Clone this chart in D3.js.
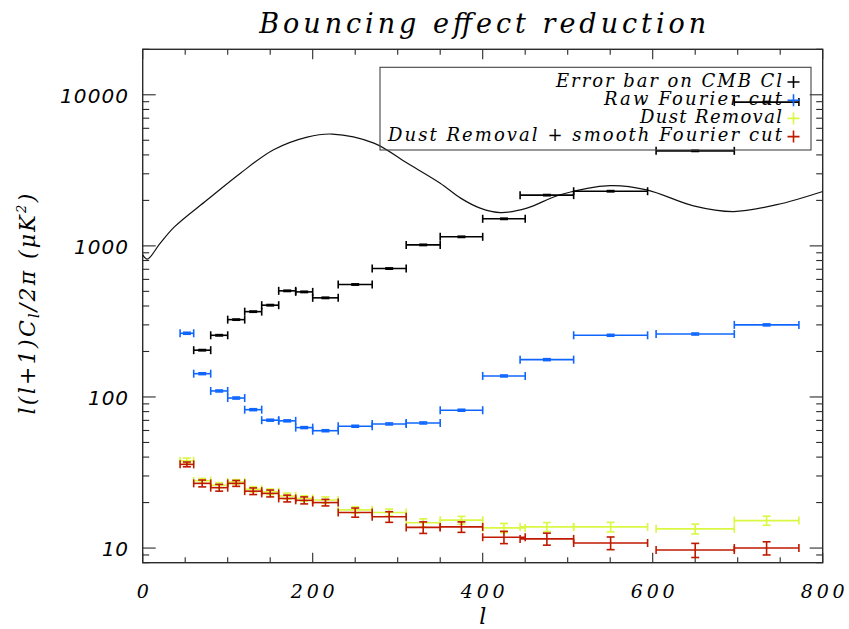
<!DOCTYPE html>
<html>
<head>
<meta charset="utf-8">
<script src="https://cdn.jsdelivr.net/npm/d3@7"></script>
<style>
  body { margin: 0; background: #fff; }
  svg { display: block; }
  .serif { font-family: "DejaVu Serif", "Liberation Serif", serif; font-style: italic; }
  .sans { font-family: "DejaVu Sans", "Liberation Sans", sans-serif; font-style: italic; }
</style>
</head>
<body>
<div id="wrapper"></div>
<script>
// bins in multipole l
const binLow  = [44, 60, 80, 100, 120, 140, 160, 180, 200, 230, 270, 310, 350, 400, 444, 507, 604, 696]
const binHigh = [60, 80, 100, 120, 140, 160, 180, 200, 230, 270, 310, 350, 400, 450, 507, 594, 696, 772]

// series values (l(l+1)Cl/2pi, uK^2) and their errors
const cmbError    = [null, 204, 256, 325, 367, 405, 504, 496, 453, 555, 708, 1015, 1148, 1511, 2167, 2300, 4256, 8948]
const cmbErrorSig = [null, 2, 2.5, 3, 3.5, 4, 5, 5, 4.5, 5.5, 7, 10, 11, 15, 20, 22, 40, 85]
const rawFourier    = [264, 142.6, 109.6, 98.4, 82.4, 70.2, 69.5, 62.7, 59.8, 64.0, 66.3, 67.3, 81.7, 137.8, 176.6, 256, 261, 300]
const rawFourierSig = [4, 2, 1.6, 1.5, 1.2, 1.0, 1.0, 0.9, 0.9, 0.95, 1.0, 1.0, 1.2, 2, 2.6, 3.8, 3.9, 4.5]
const dustRemoval    = [37.8, 27.9, 26.1, 27.4, 24.5, 23.6, 22.1, 21.3, 20.8, 17.9, 17.2, 14.7, 15.3, 13.6, 13.8, 13.8, 13.4, 15.2]
const dustRemovalSig = [1.6, 1.0, 1.0, 1.0, 1.0, 1.0, 1.0, 0.9, 1.0, 0.9, 0.9, 0.9, 0.9, 0.95, 0.95, 1.0, 1.0, 1.05]
const dustSmooth    = [35.8, 26.8, 25.1, 26.8, 23.8, 23.0, 21.3, 20.7, 20.0, 17.2, 16.1, 13.7, 13.8, 11.8, 11.5, 10.8, 9.7, 10.0]
const dustSmoothSig = [1.3, 1.4, 1.3, 1.2, 1.2, 1.2, 1.1, 1.1, 1.0, 1.2, 1.3, 1.2, 1.1, 1.1, 1.05, 1.04, 1.04, 1.0]

// theoretical CMB spectrum
const curveL  = [0, 5.5, 20, 37, 76, 115, 154, 193.5, 223, 272, 311, 350, 374, 397, 421, 452, 491, 550, 593, 648, 695, 746, 800]
const curveCl = [871, 817, 1030, 1330, 2018, 3027, 4327, 5247, 5497, 4790, 3532, 2601, 2070, 1778, 1660, 1778, 2178, 2506, 2350, 1841, 1687, 1873, 2292]

const seriesNames = ["Error bar on CMB Cl", "Raw Fourier cut", "Dust Removal", "Dust Removal + smooth Fourier cut"]
const seriesColors = ["#000000", "#0f66ff", "#d8f842", "#bf1a00"]

const xTicks = [0, 200, 400, 600, 800]
const yTicks = [10, 100, 1000, 10000]
const titleText = "Bouncing effect reduction"

const width = 849
const height = 629
const margin = { top: 49.3, right: 26.3, bottom: 66.3, left: 142.7 }

const svg = d3.select("#wrapper").append("svg")
  .attr("width", width)
  .attr("height", height)

const x = d3.scaleLinear()
  .domain([0, 800])
  .range([margin.left, width - margin.right])

const y = d3.scaleLog()
  .domain([8, 20000])
  .range([height - margin.bottom, margin.top])

const axisColor = "#2a2a2a"
const x0 = x.range()[0], x1 = x.range()[1]
const yb = y.range()[0], yt = y.range()[1]

// minor / major ticks
const xMinor = d3.range(0, 801, 50)
const yMinor = []
;[1, 10, 100, 1000, 10000].forEach(dec => {
  for (let k = 1; k < 10; k++) {
    const v = dec * k
    if (v >= 8 && v <= 20000) yMinor.push(v)
  }
})

const ticks = svg.append("g").attr("stroke", axisColor).attr("stroke-width", 1.1)
xMinor.forEach(v => {
  const len = xTicks.includes(v) ? 10 : 5.5
  ticks.append("line").attr("x1", x(v)).attr("x2", x(v)).attr("y1", yb).attr("y2", yb - len)
  ticks.append("line").attr("x1", x(v)).attr("x2", x(v)).attr("y1", yt).attr("y2", yt + len)
})
yMinor.forEach(v => {
  const len = yTicks.includes(v) ? 13 : 6.5
  ticks.append("line").attr("x1", x0).attr("x2", x0 + len).attr("y1", y(v)).attr("y2", y(v))
  ticks.append("line").attr("x1", x1).attr("x2", x1 - len).attr("y1", y(v)).attr("y2", y(v))
})

svg.append("rect")
  .attr("x", x0).attr("y", yt)
  .attr("width", x1 - x0).attr("height", yb - yt)
  .attr("fill", "none")
  .attr("stroke", axisColor)
  .attr("stroke-width", 1.4)

// tick labels
svg.append("g").selectAll("text")
  .data(xTicks)
  .enter().append("text")
  .attr("class", "serif")
  .attr("x", d => x(d))
  .attr("y", 598)
  .attr("text-anchor", "middle")
  .attr("font-size", 19)
  .attr("textLength", d => String(d).length > 1 ? String(d).length * 14.6 : null)
  .attr("lengthAdjust", "spacing")
  .text(d => d)

svg.append("g").selectAll("text")
  .data(yTicks)
  .enter().append("text")
  .attr("class", "sans")
  .attr("x", 128)
  .attr("y", d => y(d) + 8)
  .attr("text-anchor", "end")
  .attr("font-size", 20)
  .attr("textLength", d => String(d).length * 14 - 2)
  .attr("lengthAdjust", "spacing")
  .text(d => d)

// axis titles
svg.append("text")
  .attr("class", "serif")
  .attr("x", x(400))
  .attr("y", 624)
  .attr("text-anchor", "middle")
  .attr("font-size", 22)
  .text("l")

const yTitle = svg.append("text")
  .attr("class", "serif")
  .attr("transform", "translate(35,303) rotate(-90)")
  .attr("text-anchor", "middle")
  .attr("font-size", 22)
  .attr("letter-spacing", 2.3)
yTitle.append("tspan").text("l(l+1)C")
yTitle.append("tspan").attr("font-size", 14).attr("dy", 4).text("l")
yTitle.append("tspan").attr("dy", -4).text("/2\u03c0  (\u03bcK")
yTitle.append("tspan").attr("font-size", 13).attr("dy", -9).text("2")
yTitle.append("tspan").attr("dy", 9).text(")")

svg.append("text")
  .attr("class", "serif")
  .attr("x", x(400))
  .attr("y", 33)
  .attr("text-anchor", "middle")
  .attr("font-size", 27)
  .attr("textLength", 447)
  .attr("lengthAdjust", "spacing")
  .text(titleText)

// CMB curve
const line = d3.line()
  .x(d => x(d[0]))
  .y(d => y(d[1]))
  .curve(d3.curveCatmullRom.alpha(0.5))

svg.append("path")
  .attr("d", line(curveL.map((l, i) => [l, curveCl[i]])))
  .attr("fill", "none")
  .attr("stroke", "#111")
  .attr("stroke-width", 1.2)

// binned series with error bars
const series = [
  [cmbError, cmbErrorSig],
  [rawFourier, rawFourierSig],
  [dustRemoval, dustRemovalSig],
  [dustSmooth, dustSmoothSig],
]
const cap = 4

series.forEach(([values, sigmas], si) => {
  const g = svg.append("g")
    .attr("stroke", seriesColors[si])
    .attr("stroke-width", 1.6)
    .attr("fill", "none")
  values.forEach((v, i) => {
    if (v == null) return
    const xl = x(binLow[i]), xh = x(binHigh[i])
    const xc = x((binLow[i] + binHigh[i]) / 2)
    const yc = y(v)
    const ylo = y(v - sigmas[i]), yhi = y(v + sigmas[i])
    g.append("line").attr("x1", xl).attr("x2", xh).attr("y1", yc).attr("y2", yc)
    g.append("line").attr("x1", xl).attr("x2", xl).attr("y1", yc - cap).attr("y2", yc + cap)
    g.append("line").attr("x1", xh).attr("x2", xh).attr("y1", yc - cap).attr("y2", yc + cap)
    g.append("line").attr("x1", xc).attr("x2", xc).attr("y1", ylo).attr("y2", yhi)
    g.append("line").attr("x1", xc - cap).attr("x2", xc + cap).attr("y1", ylo).attr("y2", ylo)
    g.append("line").attr("x1", xc - cap).attr("x2", xc + cap).attr("y1", yhi).attr("y2", yhi)
  })
})

// legend
const legend = svg.append("g")
legend.append("rect")
  .attr("x", 380).attr("y", 67.3)
  .attr("width", 431).attr("height", 82.7)
  .attr("fill", "none")
  .attr("stroke", "#444")
  .attr("stroke-width", 1.1)

seriesNames.forEach((name, i) => {
  const cy = 82 + i * 18.2
  legend.append("text")
    .attr("class", "serif")
    .attr("x", 782)
    .attr("y", cy + 4.5)
    .attr("text-anchor", "end")
    .attr("font-size", 18)
    .attr("textLength", name.length * 12 - 2)
    .attr("lengthAdjust", "spacing")
    .text(name)
  legend.append("path")
    .attr("d", `M${787.5},${cy}H${799.5}M${793.5},${cy - 6}V${cy + 6}`)
    .attr("stroke", seriesColors[i])
    .attr("stroke-width", 1.6)
})
</script>
</body>
</html>
